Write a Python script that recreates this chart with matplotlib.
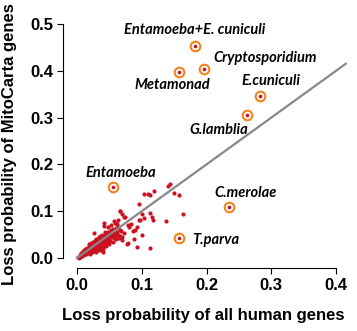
import matplotlib.pyplot as plt

# highlighted lineages
names = ["Entamoeba+E. cuniculi", "Cryptosporidium", "Metamonad", "E.cuniculi",
         "G.lamblia", "Entamoeba", "C.merolae", "T.parva"]
hx = [0.182, 0.196, 0.158, 0.283, 0.262, 0.056, 0.235, 0.158]
hy = [0.453, 0.403, 0.397, 0.346, 0.305, 0.151, 0.108, 0.043]

# other species (loss prob all genes, loss prob MitoCarta genes)
px = [0.002, 0.004, 0.005, 0.006, 0.007, 0.008, 0.009, 0.010, 0.011, 0.012,
      0.013, 0.014, 0.015, 0.015, 0.016, 0.017, 0.018, 0.019, 0.020, 0.020,
      0.021, 0.022, 0.023, 0.024, 0.025, 0.025, 0.026, 0.027, 0.028, 0.029,
      0.030, 0.030, 0.031, 0.032, 0.033, 0.034, 0.035, 0.035, 0.036, 0.037,
      0.038, 0.039, 0.040, 0.040, 0.041, 0.042, 0.043, 0.044, 0.045, 0.046,
      0.047, 0.048, 0.049, 0.050, 0.052, 0.053, 0.054, 0.055, 0.056, 0.058,
      0.060, 0.062, 0.064, 0.066,
      0.010, 0.015, 0.020, 0.012, 0.025, 0.030, 0.018, 0.022, 0.028, 0.034,
      0.020, 0.030, 0.035, 0.040, 0.045, 0.050, 0.055, 0.060, 0.065, 0.070,
      0.008, 0.013, 0.017, 0.024, 0.027, 0.033, 0.038, 0.043, 0.048, 0.052,
      0.014, 0.019, 0.023, 0.029, 0.032, 0.037, 0.041, 0.046, 0.051, 0.057,
      0.003, 0.006, 0.009, 0.011, 0.016, 0.021, 0.026, 0.031, 0.036, 0.039,
      0.044, 0.047, 0.049, 0.054, 0.059, 0.006, 0.012, 0.018, 0.024, 0.029,
      0.034, 0.039, 0.044, 0.050, 0.027, 0.032, 0.037, 0.042, 0.047, 0.036,
      0.143, 0.140, 0.119, 0.104, 0.112, 0.150, 0.158, 0.096, 0.066, 0.070,
      0.101, 0.113, 0.116, 0.137, 0.096, 0.057, 0.059, 0.073, 0.079, 0.081,
      0.089, 0.101, 0.088, 0.066, 0.070, 0.079, 0.093, 0.113, 0.040, 0.026,
      0.041, 0.042, 0.163, 0.097, 0.103, 0.118, 0.067, 0.074, 0.083, 0.092,
      0.077, 0.110, 0.061, 0.063, 0.068, 0.072, 0.048, 0.053, 0.086, 0.064]
py = [0.003, 0.002, 0.006, 0.004, 0.008, 0.005, 0.010, 0.007, 0.012, 0.009,
      0.014, 0.011, 0.016, 0.010, 0.013, 0.019, 0.015, 0.012, 0.021, 0.017,
      0.014, 0.024, 0.019, 0.016, 0.027, 0.022, 0.018, 0.030, 0.025, 0.020,
      0.033, 0.027, 0.022, 0.036, 0.029, 0.024, 0.039, 0.032, 0.027, 0.042,
      0.035, 0.030, 0.045, 0.038, 0.033, 0.048, 0.040, 0.036, 0.052, 0.043,
      0.038, 0.055, 0.046, 0.041, 0.058, 0.049, 0.044, 0.062, 0.052, 0.047,
      0.064, 0.055, 0.050, 0.060,
      0.016, 0.022, 0.028, 0.020, 0.035, 0.040, 0.030, 0.033, 0.037, 0.045,
      0.008, 0.012, 0.018, 0.020, 0.025, 0.030, 0.035, 0.040, 0.042, 0.045,
      0.011, 0.017, 0.021, 0.029, 0.034, 0.041, 0.046, 0.050, 0.053, 0.060,
      0.008, 0.011, 0.013, 0.017, 0.019, 0.022, 0.026, 0.031, 0.036, 0.042,
      0.001, 0.007, 0.006, 0.015, 0.020, 0.019, 0.024, 0.030, 0.034, 0.040,
      0.046, 0.050, 0.056, 0.057, 0.053, 0.010, 0.017, 0.025, 0.031, 0.038,
      0.043, 0.049, 0.055, 0.047, 0.014, 0.018, 0.023, 0.028, 0.032, 0.048,
      0.158, 0.154, 0.144, 0.136, 0.135, 0.138, 0.134, 0.116, 0.100, 0.095,
      0.095, 0.097, 0.088, 0.079, 0.081, 0.080, 0.074, 0.088, 0.071, 0.066,
      0.060, 0.049, 0.040, 0.048, 0.038, 0.031, 0.024, 0.021, 0.013, 0.054,
      0.074, 0.068, 0.094, 0.081, 0.086, 0.081, 0.101, 0.088, 0.073, 0.067,
      0.030, 0.136, 0.072, 0.066, 0.058, 0.053, 0.066, 0.070, 0.058, 0.082]

# label centres (data coords)
lab_x = [0.182, 0.290, 0.147, 0.300, 0.219, 0.068, 0.260, 0.215]
lab_y = [0.487, 0.427, 0.370, 0.378, 0.273, 0.182, 0.139, 0.038]

red = "#cc1122"
orange = "#f0841e"

fig = plt.figure(figsize=(3.57, 3.31), dpi=100)
ax = fig.add_axes([77 / 357, 1 - 258 / 331, 272 / 357, 234 / 331])
ax.set_xlim(0, 0.42)
ax.set_ylim(0, 0.5)

ax.plot([0, 0.415], [0, 0.415], color="#888888", lw=1.6, zorder=3, clip_on=False)
ax.scatter(px, py, s=9, color=red, lw=0, zorder=2, clip_on=False)
ax.scatter(hx, hy, s=48, facecolor="white", edgecolor=orange, lw=1.5, zorder=4)
ax.scatter(hx, hy, s=7, color=red, lw=0, zorder=5)

for n, x, y in zip(names, lab_x, lab_y):
    ax.text(x, y, n, ha="center", va="center", fontsize=10.5, family="Lato",
            weight="bold", style="italic")

for s in ["top", "right"]:
    ax.spines[s].set_visible(False)
ax.spines["left"].set_position(("outward", 10))
ax.spines["bottom"].set_position(("outward", 7.2))
ax.spines["left"].set_bounds(0, 0.5)
ax.spines["bottom"].set_bounds(0, 0.4)
ax.set_xticks([0, 0.1, 0.2, 0.3, 0.4])
ax.set_yticks([0, 0.1, 0.2, 0.3, 0.4, 0.5])
ax.set_xticklabels(["0.0", "0.1", "0.2", "0.3", "0.4"])
ax.set_yticklabels(["0.0", "0.1", "0.2", "0.3", "0.4", "0.5"])
ax.tick_params(length=4, width=0.8, labelsize=12, pad=3)
for t in ax.get_xticklabels() + ax.get_yticklabels():
    t.set_family("Liberation Sans")
    t.set_weight("bold")

ax.set_xlabel("Loss probability of all human genes", fontsize=12,
              family="Liberation Sans", weight="bold")
ax.set_ylabel("Loss probability of MitoCarta genes", fontsize=12,
              family="Liberation Sans", weight="bold")
ax.xaxis.set_label_coords(0.463, -0.215)
ax.yaxis.set_label_coords(-0.222, 0.485)

fig.savefig("out.png", dpi=100)
